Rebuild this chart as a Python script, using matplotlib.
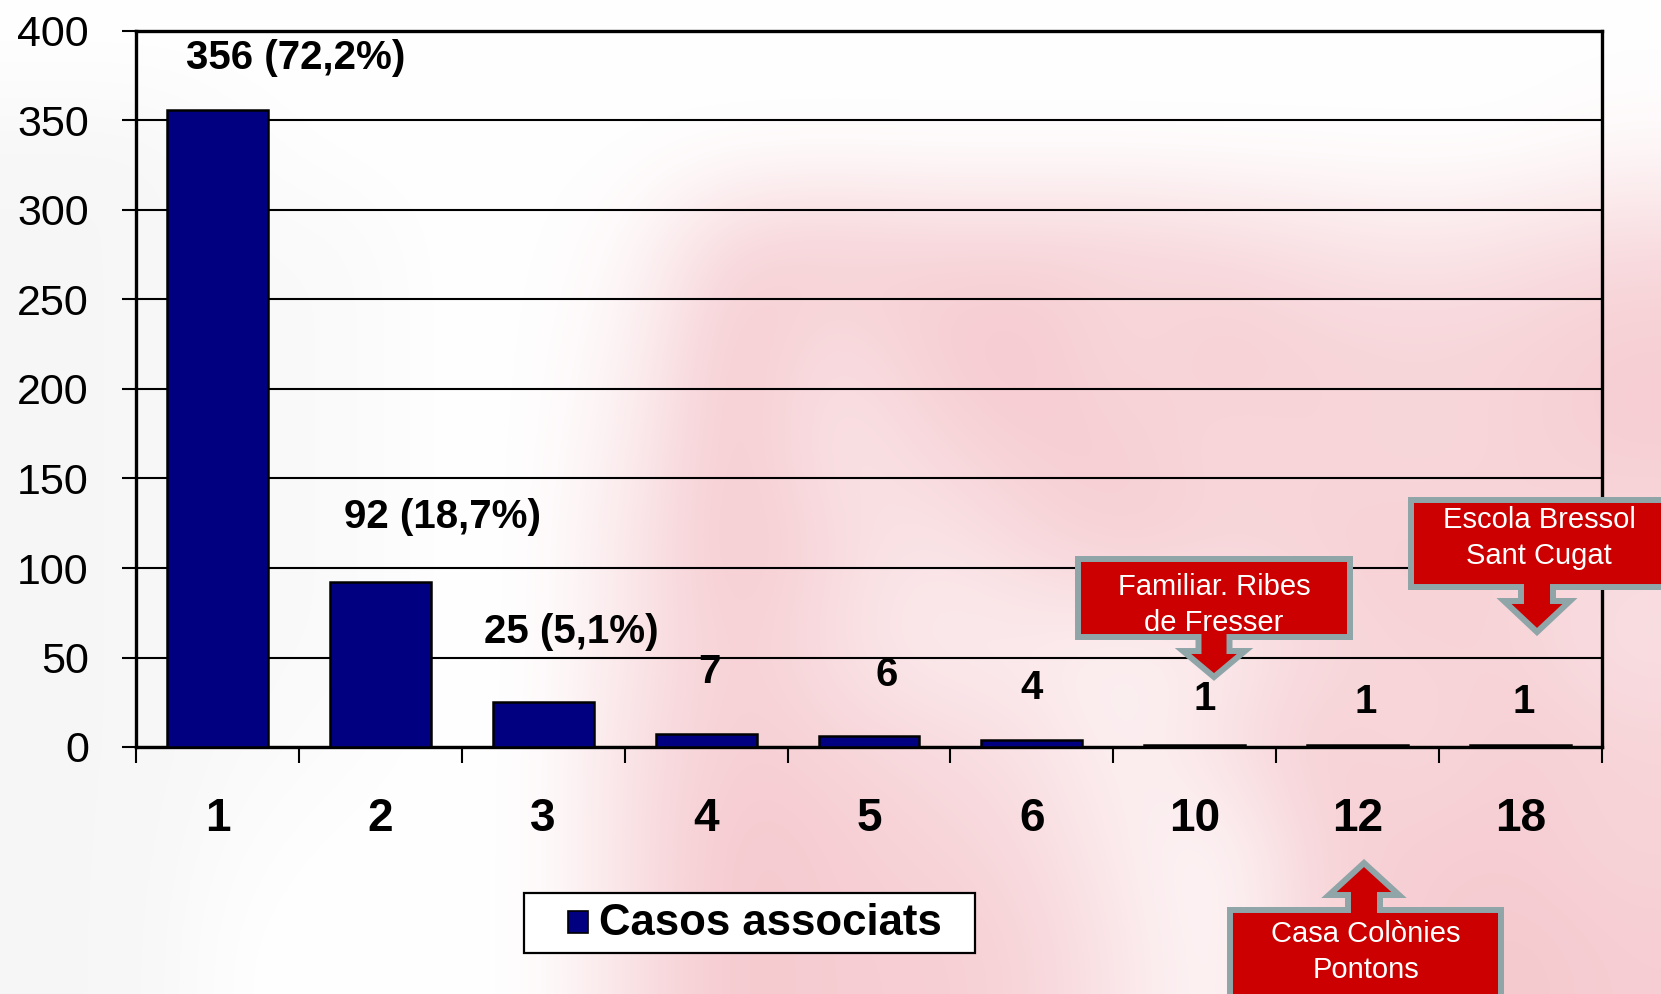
import numpy as np
import matplotlib
matplotlib.use("Agg")
import matplotlib.pyplot as plt
from matplotlib.colors import LinearSegmentedColormap
from matplotlib.patches import Polygon, Rectangle
from matplotlib.transforms import Affine2D

plt.rcParams["font.family"] = ["Liberation Sans", "DejaVu Sans"]

W, H = 1661, 994

# data
categories = ["1", "2", "3", "4", "5", "6", "10", "12", "18"]
cases = [356, 92, 25, 7, 6, 4, 1, 1, 1]
bar_labels = ["356 (72,2%)", "92 (18,7%)", "25 (5,1%)", "7", "6", "4", "1", "1", "1"]
series_name = "Casos associats"
callout_texts = [
    "Familiar. Ribes\nde Fresser",
    "Escola Bressol\nSant Cugat",
    "Casa Colònies\nPontons",
]

# where the value labels sit (x offset in category units, y in data units)
label_dx = [0.48, 0.38, 0.17, 0.02, 0.11, 0.0, 0.06, 0.05, 0.02]
label_y = [385, 128.5, 64.5, 42, 40, 33, 27, 25, 25]

# faint watermark behind the chart (pink > 0, grey < 0)
watermark = np.array([
    [0, 0, 0, 0, 0, 0, 0, 0, 0, 0, 0, 0, 0, 0, 0, 0, 0],
    [-.3, -.3, -.1, 0, 0, 0, 0, 0, 0, 0, 0, 0, 0, 0, 0, 0, .1],
    [-.3, -.3, -.2, -.2, 0, 0, .1, .7, .8, .7, .7, .7, .6, .5, .4, .5, .6],
    [-.3, -.3, -.2, -.2, 0, 0, .2, .9, .5, .8, .9, .6, .8, .7, .7, .7, .8],
    [-.3, -.3, -.2, -.2, 0, 0, .3, .9, .4, .6, .8, .8, .6, .7, .6, .7, .8],
    [-.3, -.3, -.2, -.2, 0, 0, .4, .9, .6, .4, .6, .8, .7, .7, .8, .7, .6],
    [-.3, -.3, -.2, -.2, 0, 0, .4, .8, .5, .3, .3, .2, .3, .6, .7, .7, .5],
    [-.3, -.3, -.2, -.1, 0, 0, .5, .8, .7, .6, .5, .2, .5, .8, .6, .8, .7],
    [-.3, -.3, -.1, 0, 0, 0, .5, .9, .8, .7, .6, .3, .1, .7, .8, .8, .7],
    [-.3, -.3, 0, 0, 0, 0, .5, .9, .8, .8, .7, .4, .1, .7, .8, .9, .8],
])

fig = plt.figure(figsize=(W / 100, H / 100), dpi=100)
fig.patch.set_facecolor("white")
px = Affine2D().scale(1 / W, -1 / H).translate(0, 1) + fig.transFigure

bg = fig.add_axes([0, 0, 1, 1], zorder=-1)
wm_cmap = LinearSegmentedColormap.from_list("wm", ["#E4E4E4", "white", "#F4C2C8"])
bg.imshow(watermark, cmap=wm_cmap, vmin=-1, vmax=1, interpolation="bicubic",
          aspect="auto", extent=(0, 1, 0, 1))
bg.axis("off")

ax = fig.add_axes([136 / W, 1 - 747 / H, (1602 - 136) / W, (747 - 31) / H])
ax.set_facecolor("none")

x = np.arange(len(categories))
bars = ax.bar(x, cases, width=0.62, color="#000080", edgecolor="black",
              linewidth=1.8, zorder=3)

ax.set_xlim(-0.5, len(categories) - 0.5)
ax.set_ylim(0, 400)
ax.set_yticks(np.arange(0, 401, 50))
ax.yaxis.grid(True, color="black", linewidth=1.5)
ax.set_axisbelow(True)

ax.set_xticks(x, categories)
ax.set_xticks(np.arange(-0.5, len(categories), 1), minor=True)
ax.tick_params(axis="x", which="major", length=0, pad=36, labelsize=33)
ax.tick_params(axis="x", which="minor", length=11.5, width=1.5, direction="out")
ax.tick_params(axis="y", length=10, width=1.5, pad=24, labelsize=31)
for lab in ax.get_xticklabels():
    lab.set_fontweight("bold")
for sp in ax.spines.values():
    sp.set_linewidth(2.4)

# value labels
for i, txt in enumerate(bar_labels):
    ax.text(x[i] + label_dx[i], label_y[i], txt, ha="center", va="center",
            fontsize=29, fontweight="bold", zorder=4)

# legend box drawn by hand
fig.add_artist(Rectangle((524, 893), 451, 60, transform=px, facecolor="white",
                         edgecolor="black", linewidth=1.6))
fig.add_artist(Rectangle((568, 911), 20, 22, transform=px, facecolor="#000080",
                         edgecolor="black", linewidth=1.2))
fig.text(599, 935, series_name, transform=px, fontsize=31.5, fontweight="bold",
         ha="left", va="baseline")


def callout(x0, y0, x1, y1, cx, tip, shaft, head, head_y, down=True):
    if down:
        pts = [(x0, y0), (x1, y0), (x1, y1), (cx + shaft, y1), (cx + shaft, head_y),
               (cx + head, head_y), (cx, tip), (cx - head, head_y),
               (cx - shaft, head_y), (cx - shaft, y1), (x0, y1)]
    else:
        pts = [(x0, y0), (cx - shaft, y0), (cx - shaft, head_y), (cx - head, head_y),
               (cx, tip), (cx + head, head_y), (cx + shaft, head_y),
               (cx + shaft, y0), (x1, y0), (x1, y1), (x0, y1)]
    fig.add_artist(Polygon(pts, closed=True, transform=px, facecolor="#CC0000",
                           edgecolor="#8FA5A8", linewidth=4.3, joinstyle="miter"))


callout(1078, 559, 1350, 637, 1214, 677, 15.5, 31, 651)
callout(1411, 500, 1668, 587, 1537, 632, 16, 33, 601)
callout(1230, 910, 1501, 1005, 1364, 863, 16, 35, 895, down=False)

callout_xy = [(1214, 605), (1539, 538), (1366, 952)]
for (cx, cy), txt in zip(callout_xy, callout_texts):
    fig.text(cx, cy, txt, transform=px, color="white", fontsize=21,
             ha="center", va="center", multialignment="center", linespacing=1.4)

fig.savefig("out.png", dpi=100)
